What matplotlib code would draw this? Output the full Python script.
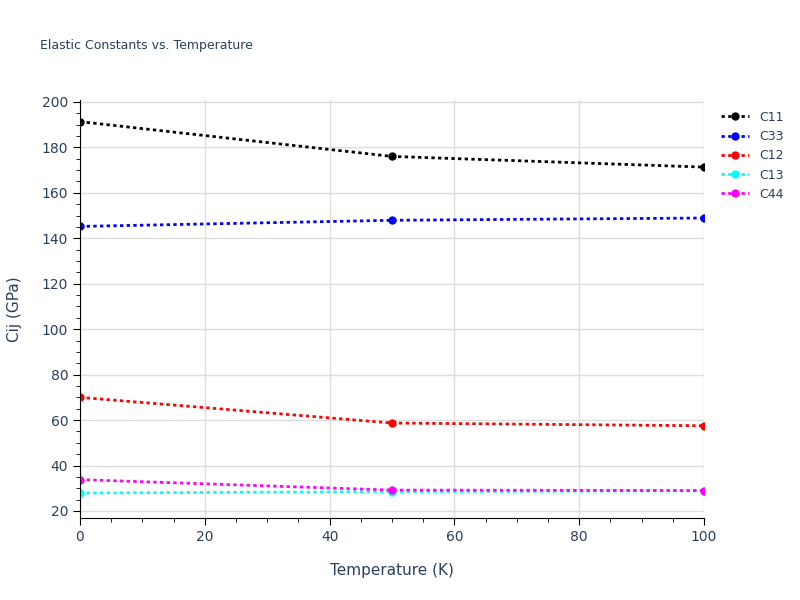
import matplotlib
matplotlib.use("Agg")
import matplotlib.pyplot as plt
from matplotlib.ticker import MultipleLocator

temps = [0, 50, 100]
c11 = [191.3, 176.0, 171.3]
c33 = [145.2, 147.9, 148.9]
c12 = [70.0, 58.7, 57.5]
c13 = [27.9, 28.5, 28.9]
c44 = [33.8, 29.2, 29.0]
series = [("C11", c11, "black"), ("C33", c33, "blue"), ("C12", c12, "red"),
          ("C13", c13, "cyan"), ("C44", c44, "magenta")]

fig = plt.figure(figsize=(8, 6), dpi=100)
ax = fig.add_axes([0.1, 0.137, 0.78, 0.697])
for name, vals, col in series:
    ax.plot(temps, vals, linestyle=(0, (1.2, 1.2)), color=col, lw=2,
            marker="o", ms=5, label=name)
ax.set_xlim(0, 100)
ax.set_ylim(17, 201)
ax.xaxis.set_major_locator(MultipleLocator(20))
ax.xaxis.set_minor_locator(MultipleLocator(5))
ax.yaxis.set_major_locator(MultipleLocator(20))
ax.yaxis.set_minor_locator(MultipleLocator(5))
ax.grid(True, which="major", color="#dddddd", lw=1)
for s in ["top", "right"]:
    ax.spines[s].set_visible(False)
for s in ["left", "bottom"]:
    ax.spines[s].set_color("black")
ax.tick_params(colors="#2a3f5f", labelsize=10, length=5)
ax.tick_params(axis="both", which="minor", length=3)
ax.tick_params(axis="both", which="both", color="black")
ax.set_xlabel("Temperature (K)", color="#2a3f5f", fontsize=11, labelpad=14)
ax.set_ylabel("Cij (GPa)", color="#2a3f5f", fontsize=11, labelpad=14)
fig.text(0.05, 0.925, "Elastic Constants vs. Temperature", color="#2a3f5f",
         fontsize=9, va="center")
leg = ax.legend(loc="upper left", bbox_to_anchor=(1.01, 1.0), frameon=False,
                fontsize=9, handlelength=2.2, labelspacing=0.5)
for t in leg.get_texts():
    t.set_color("#2a3f5f")
fig.savefig("out.png")
